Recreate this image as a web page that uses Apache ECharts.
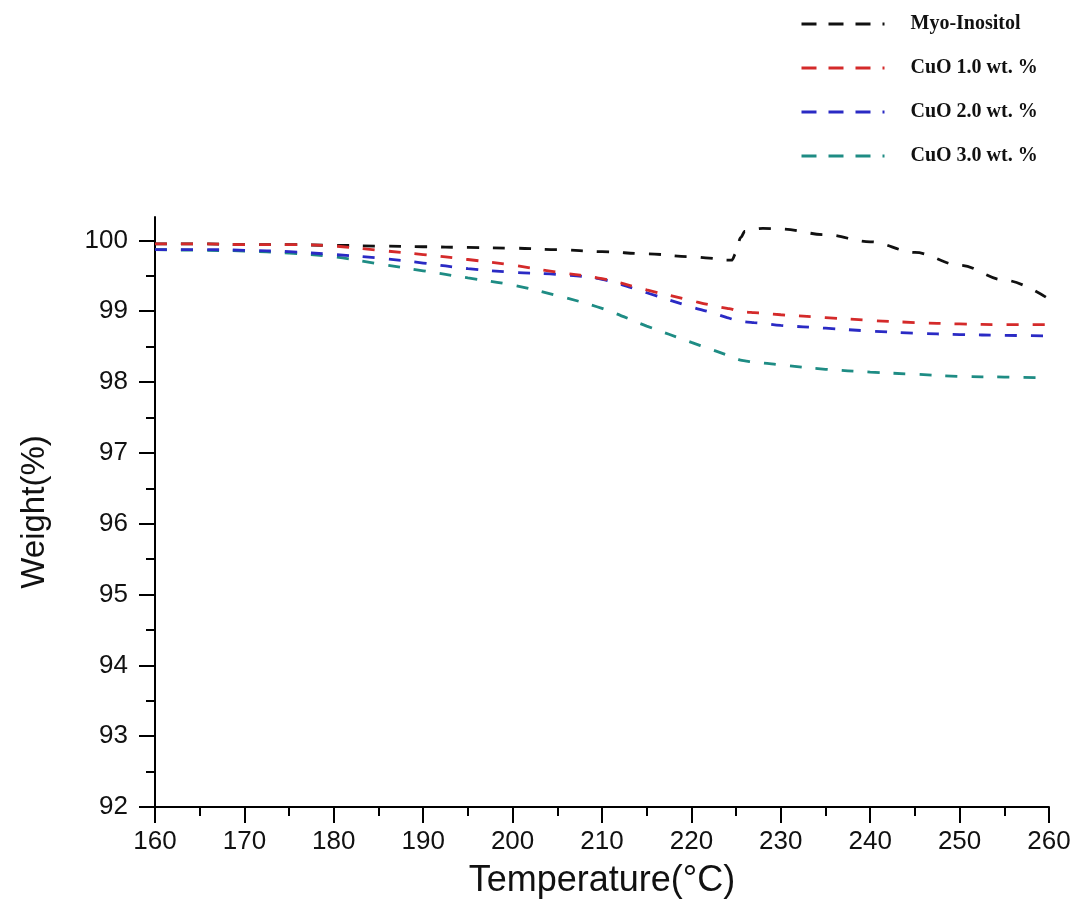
<!DOCTYPE html>
<html>
<head>
<meta charset="utf-8">
<script src="https://cdn.jsdelivr.net/npm/echarts@6/dist/echarts.min.js"></script>
<style>html,body{margin:0;padding:0;background:#fff;}#chart{width:1078px;height:922px;}</style>
</head>
<body>
<div id="chart"></div>
<script>
// Temperature (°C)
const temps = [160,165,170,175,180,185,190,195,200,205,210,215,220,222,224,224.5,225,225.5,226,227,228,230,235,240,245,250,255,260];
// Weight (%)
const myoInositol = [99.95,99.95,99.94,99.94,99.93,99.92,99.91,99.90,99.89,99.87,99.84,99.81,99.77,99.75,99.72,99.72,99.82,100.04,100.13,100.16,100.17,100.16,100.08,99.98,99.83,99.65,99.44,99.17];
const cuo1 = [99.95,99.95,99.94,99.94,99.92,99.86,99.80,99.73,99.65,99.55,99.46,99.30,99.15,99.09,99.04,99.03,99.01,99.00,98.99,98.98,98.97,98.95,98.91,98.87,98.84,98.82,98.81,98.81];
const cuo2 = [99.87,99.87,99.86,99.84,99.80,99.75,99.68,99.60,99.55,99.52,99.45,99.26,99.06,98.99,98.91,98.89,98.87,98.86,98.85,98.84,98.83,98.80,98.76,98.72,98.69,98.67,98.66,98.65];
const cuo3 = [99.87,99.86,99.85,99.82,99.77,99.67,99.57,99.47,99.37,99.22,99.04,98.79,98.56,98.47,98.38,98.35,98.33,98.31,98.30,98.28,98.27,98.24,98.18,98.14,98.11,98.08,98.07,98.06];
const seriesNames = ['Myo-Inositol','CuO 1.0 wt. %','CuO 2.0 wt. %','CuO 3.0 wt. %'];
const yMajor = [92,93,94,95,96,97,98,99,100];
const yMinor = [92.5,93.5,94.5,95.5,96.5,97.5,98.5,99.5];

const pairs = arr => temps.map((t,i)=>[t,arr[i]]);
const dash = [12,14];
function mk(name, data, color, mono){
  const s = {name, type:'line', data:pairs(data), showSymbol:false, symbol:'none',
    smooth:0.35,
    lineStyle:{color, width:2.8, type:dash}, itemStyle:{color}};
  if (mono) s.smoothMonotone = 'x';
  return s;
}
const chart = echarts.init(document.getElementById('chart'), null, {renderer:'canvas'});
const axisFont = 'Liberation Sans, Arial, sans-serif';
chart.setOption({
  animation:false,
  backgroundColor:'#fff',
  grid:{left:155, right:29, top:217, bottom:115},
  legend:{
    orient:'vertical', left:795, top:9,
    data:seriesNames,
    itemWidth:83, itemHeight:20, itemGap:24,
    itemStyle:{opacity:0},
    lineStyle:{width:3, type:[15,12]},
    textStyle:{fontFamily:'Liberation Serif, Times New Roman, serif', fontWeight:'bold', fontSize:20, color:'#111', padding:[0,0,0,21], lineHeight:20}
  },
  xAxis:{
    type:'value', min:160, max:260, interval:10,
    name:'Temperature(°C)', nameLocation:'middle', nameGap:56,
    nameTextStyle:{fontFamily:axisFont, fontSize:36, color:'#111'},
    axisLine:{lineStyle:{color:'#000', width:2}},
    axisTick:{length:16, lineStyle:{color:'#000', width:2}},
    minorTick:{show:true, splitNumber:2, length:9, lineStyle:{color:'#000', width:2}},
    axisLabel:{fontFamily:axisFont, fontSize:26, color:'#111', margin:22},
    splitLine:{show:false}
  },
  yAxis:[{
    type:'value', min:92, max:100.33,
    name:'Weight(%)', nameLocation:'middle', nameGap:104,
    nameTextStyle:{fontFamily:axisFont, fontSize:33, color:'#111'},
    axisLine:{show:true, lineStyle:{color:'#000', width:2}},
    axisTick:{show:true, length:16, customValues:yMajor, lineStyle:{color:'#000', width:2}},
    axisLabel:{fontFamily:axisFont, fontSize:26, color:'#111', margin:27, customValues:yMajor},
    splitLine:{show:false}
  },{
    type:'value', min:92, max:100.33, position:'left', offset:0,
    axisLine:{show:false},
    axisTick:{show:true, length:9, customValues:yMinor, lineStyle:{color:'#000', width:2}},
    axisLabel:{show:false},
    splitLine:{show:false}
  }],
  series:[
    mk(seriesNames[0], myoInositol, '#111111', true),
    mk(seriesNames[3], cuo3, '#1e8c84'),
    mk(seriesNames[2], cuo2, '#2a2ac4'),
    mk(seriesNames[1], cuo1, '#d42a2a')
  ]
});
</script>
</body>
</html>
